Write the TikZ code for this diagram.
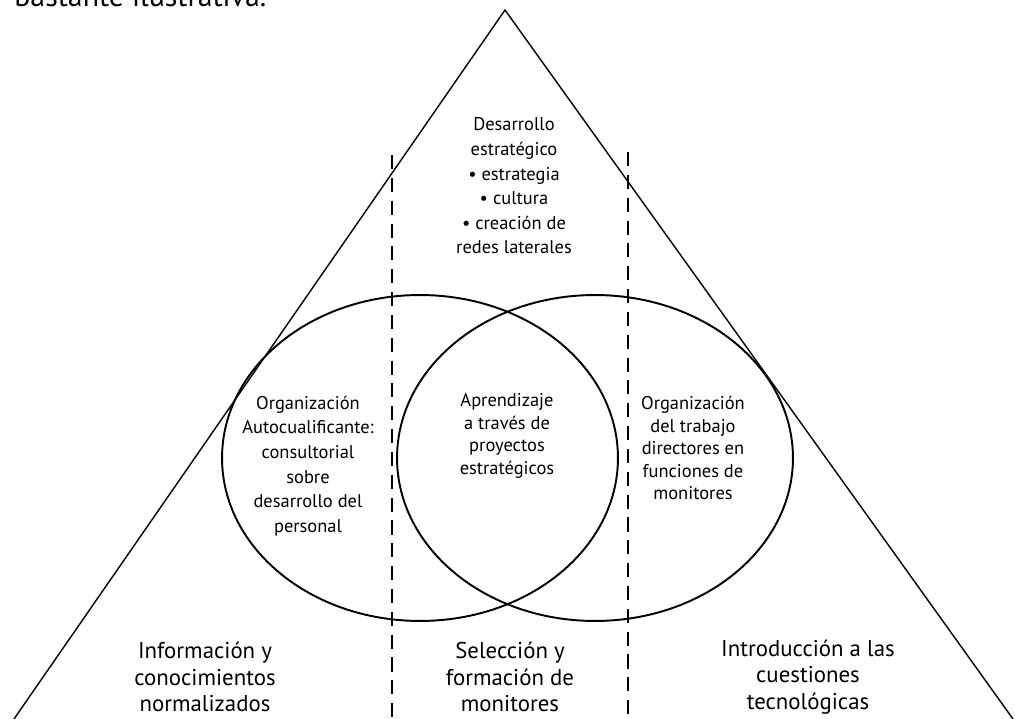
\documentclass[tikz,border=0pt]{standalone}
\usepackage{fontspec}
\setmainfont{PT Sans}
\begin{document}
\begin{tikzpicture}[
    x=0.02cm, y=-0.02cm,
    lado/.style={line width=0.8pt},
    anillo/.style={line width=1.1pt},
    guia/.style={line width=0.9pt, dash pattern=on 8pt off 5pt},
    texto/.style={align=center, inner sep=0pt, font=\fontsize{10.5}{#1}\selectfont},
    texto/.default=14pt,
    pie/.style={align=center, inner sep=0pt, font=\fontsize{13}{15}\selectfont}
]
    \useasboundingbox (0,0) rectangle (1015,719);

    % Cut-off line of the page above
    \node[anchor=base west, inner sep=0pt, font=\fontsize{17}{20}\selectfont] (arriba) at (14,7) {bastante ilustrativa.};

    % Triangle
    \coordinate (cima) at (505,10);
    \coordinate (izqbase) at (14,719);
    \coordinate (derbase) at (1013,719);
    \draw[lado] (izqbase) -- (cima) -- (derbase);

    % Dashed divisions
    \coordinate (div1arriba) at (392,155);
    \coordinate (div1abajo) at (392,719);
    \coordinate (div2arriba) at (628,152);
    \coordinate (div2abajo) at (628,719);
    \draw[guia] (div1arriba) -- (div1abajo);
    \draw[guia] (div2arriba) -- (div2abajo);

    % Ellipses
    \draw[anillo] (420,458) ellipse [x radius=3.96cm, y radius=3.26cm];
    \draw[anillo] (595,458) ellipse [x radius=3.96cm, y radius=3.26cm];

    % Labels
    \node[texto] (desarrollo) at (514,186) {Desarrollo\\estratégico\\• estrategia\\• cultura\\• creación de\\redes laterales};
    \node[texto] (autocual) at (308,466) {Organización\\Autocualificante:\\consultorial\\sobre\\desarrollo del\\personal};
    \node[texto=12.8pt] (aprendizaje) at (507,436) {Aprendizaje\\a través de\\proyectos\\estratégicos};
    \node[texto=12.8pt] (trabajo) at (693,448) {Organización\\del trabajo\\directores en\\funciones de\\monitores};

    % Bottom labels
    \node[pie] (informacion) at (205,677) {Información y\\conocimientos\\normalizados};
    \node[pie] (seleccion) at (510,677) {Selección y\\formación de\\monitores};
    \node[pie] (introduccion) at (808,677) {Introducción a las\\cuestiones\\tecnológicas};
\end{tikzpicture}
\end{document}
